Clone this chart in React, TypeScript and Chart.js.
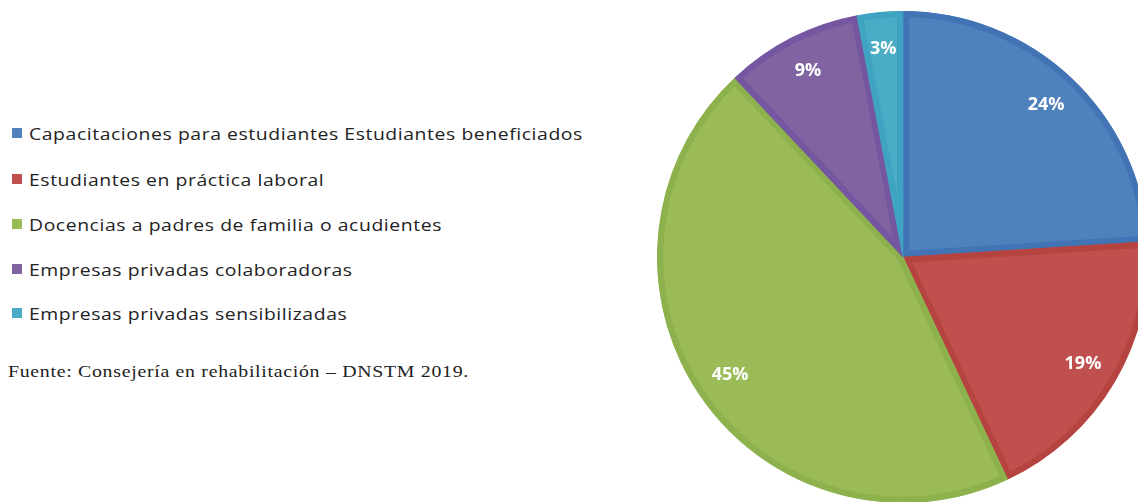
import React, { useEffect, useRef } from "react";
import { Chart, registerables } from "chart.js";

Chart.register(...registerables);

const categories = [
  "Capacitaciones para estudiantes Estudiantes beneficiados",
  "Estudiantes en práctica laboral",
  "Docencias a padres de familia o acudientes",
  "Empresas privadas colaboradoras",
  "Empresas privadas sensibilizadas",
];
const percentages = [24, 19, 45, 9, 3];
const fillColors = ["#4f81bd", "#c0504d", "#9bbb59", "#8064a2", "#4bacc6"];
const edgeColors = ["#4274b5", "#b54340", "#8db24d", "#7556a0", "#3ea4c1"];
const sourceNote = "Fuente: Consejería en rehabilitación – DNSTM 2019.";

const labelPlugin = {
  id: "pctLabels",
  afterDatasetsDraw(chart: any) {
    const ctx = chart.ctx;
    const meta = chart.getDatasetMeta(0);
    ctx.save();
    ctx.fillStyle = "#ffffff";
    ctx.font = "bold 18px 'Open Sans'";
    ctx.textAlign = "center";
    ctx.textBaseline = "middle";
    meta.data.forEach((arc: any, i: number) => {
      const p = arc.getProps(["x", "y", "startAngle", "endAngle", "outerRadius"], true);
      const mid = (p.startAngle + p.endAngle) / 2;
      const r = p.outerRadius * 0.85;
      ctx.fillText(percentages[i] + "%", p.x + Math.cos(mid) * r, p.y + Math.sin(mid) * r);
    });
    ctx.restore();
  },
};

export default function App() {
  const ref = useRef<HTMLCanvasElement>(null);
  useEffect(() => {
    if (!ref.current) return;
    const chart = new Chart(ref.current, {
      type: "pie",
      data: {
        labels: categories,
        datasets: [
          {
            data: percentages,
            backgroundColor: fillColors,
            borderColor: edgeColors,
            borderWidth: 6,
            borderAlign: "inner",
          } as any,
        ],
      },
      options: {
        responsive: false,
        animation: false,
        layout: { padding: 4 },
        plugins: { legend: { display: false }, tooltip: { enabled: false } },
      },
      plugins: [labelPlugin],
    });
    return () => chart.destroy();
  }, []);

  const rowCenters = [133, 179, 224, 269, 313];
  return (
    <div
      style={{
        position: "fixed",
        left: 0,
        top: 0,
        width: 1138,
        height: 502,
        overflow: "hidden",
        background: "#ffffff",
      }}
    >
      {categories.map((c, i) => (
        <div
          key={c}
          style={{
            position: "absolute",
            left: 12,
            top: rowCenters[i] - 12,
            height: 24,
            display: "flex",
            alignItems: "center",
            whiteSpace: "nowrap",
            fontFamily: "'Open Sans'",
            fontSize: 17,
            color: "#222222",
          }}
        >
          <span
            style={{
              display: "inline-block",
              width: 10,
              height: 10,
              background: fillColors[i],
              marginRight: 7,
              flex: "none",
            }}
          />
          <span
            style={{
              display: "inline-block",
              letterSpacing: 0.5,
              transform: "scaleX(1.14)",
              transformOrigin: "left center",
            }}
          >
            {c}
          </span>
        </div>
      ))}
      <div
        style={{
          position: "absolute",
          left: 8,
          top: 372 - 11,
          height: 22,
          lineHeight: "22px",
          whiteSpace: "nowrap",
          fontFamily: "'Liberation Serif'",
          fontSize: 17,
          letterSpacing: 0.6,
          transform: "scaleX(1.167)",
          transformOrigin: "left center",
          color: "#222222",
        }}
      >
        {sourceNote}
      </div>
      <div style={{ position: "absolute", left: 653, top: 7, width: 500, height: 500 }}>
        <canvas ref={ref} width={500} height={500} />
      </div>
    </div>
  );
}
